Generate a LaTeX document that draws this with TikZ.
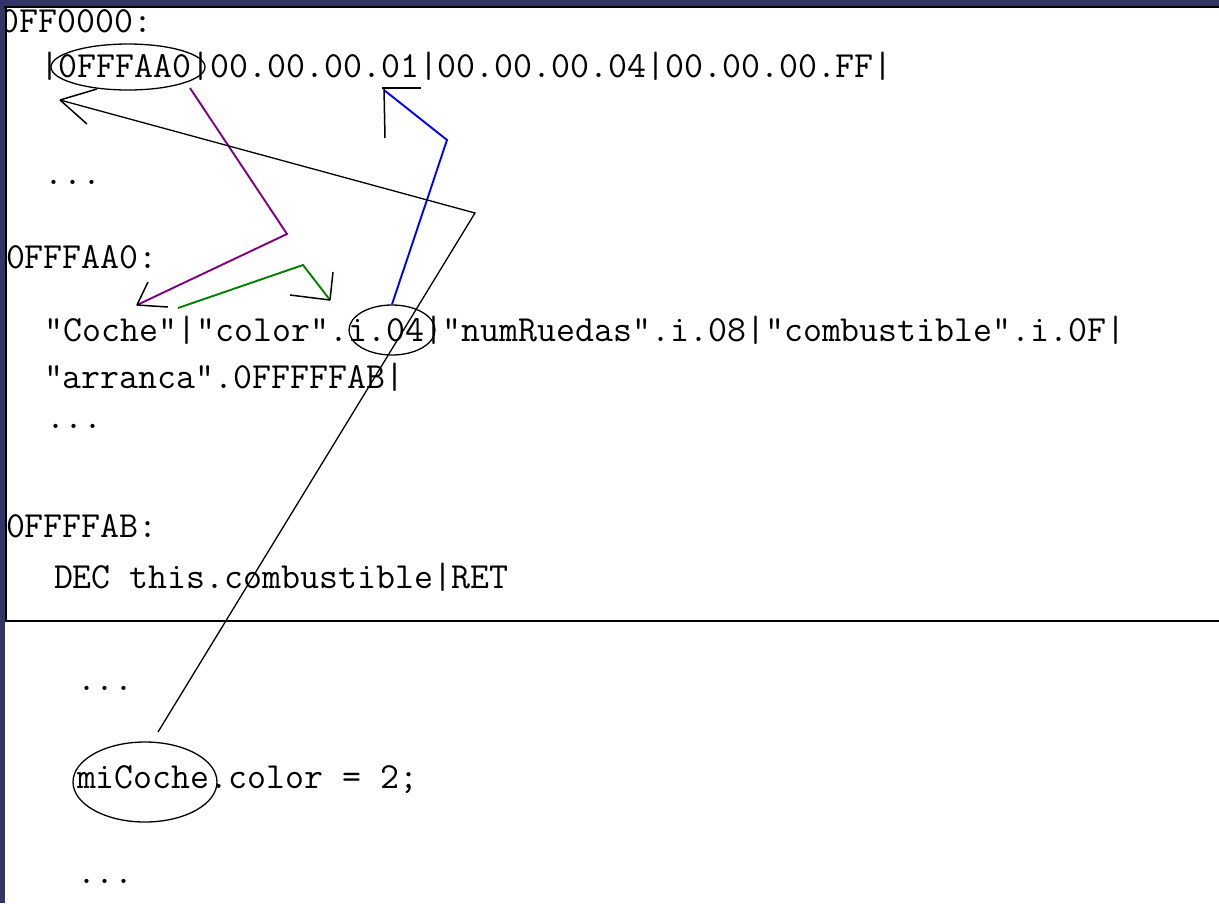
\documentclass[tikz,border=0pt]{standalone}
\usepackage{fontspec}
\usetikzlibrary{shapes.geometric}
\definecolor{navy}{RGB}{51,51,102}
\definecolor{lnpurple}{RGB}{128,0,128}
\definecolor{lngreen}{RGB}{0,128,0}
\definecolor{lnblue}{RGB}{0,0,255}
\newcommand{\codefont}{\fontsize{36.8pt}{40pt}\selectfont\ttfamily}
\tikzset{
  txt/.style={anchor=base west, inner sep=0pt, outer sep=0pt, font=\codefont},
  ring/.style={draw, ellipse, inner sep=0pt, line width=1.3pt},
  link/.style={line width=1.9pt, line join=miter},
  thinlink/.style={line width=1.3pt, black},
  barb/.style={black, line width=1.5pt},
}
\begin{document}
\begin{tikzpicture}[x=1pt,y=-1pt]
\useasboundingbox (0,0) rectangle (1219,903);
\fill[white] (0,0) rectangle (1219,903);

% texts
\node[txt] (l1) at (1,32) {0FF0000:};
\node[txt] (l2) at (40,77) {|0FFFAA0|00.00.00.01|00.00.00.04|00.00.00.FF|};
\node[txt] (l3) at (45,184) {...};
\node[txt] (l4) at (6,268) {0FFFAA0:};
\node[txt] (l5) at (45,341) {"Coche"|"color".i.04|"numRuedas".i.08|"combustible".i.0F|};
\node[txt] (l6) at (44,388) {"arranca".0FFFFFAB|};
\node[txt] (l7) at (46,428) {...};
\node[txt] (l8) at (6,537) {0FFFFAB:};
\node[txt] (l9) at (54,588) {DEC this.combustible|RET};
\node[txt] (l10) at (77,690) {...};
\node[txt] (l11) at (77,788) {miCoche.color = 2;};
\node[txt] (l12) at (77,883) {...};

% ellipses
\node[ring, minimum width=154pt, minimum height=46pt] (e1) at (128,67) {};
\node[ring, minimum width=86pt, minimum height=50pt] (e2) at (392,330) {};
\node[ring, minimum width=144pt, minimum height=80pt] (e3) at (145,782) {};

% waypoints
\coordinate (pS) at (190,88);
\coordinate (pM) at (287,234);
\coordinate (pT) at (137,305);
\coordinate (gS) at (178,308);
\coordinate (gM) at (303,265);
\coordinate (gT) at (330,300);
\coordinate (bM) at (447,140);
\coordinate (bT) at (384,90);
\coordinate (kS) at (158,732);
\coordinate (kM) at (475,213);
\coordinate (kT) at (60,100);

% purple connector
\draw[link, lnpurple] (pS) -- (pM) -- (pT);
\draw[barb] (pT) -- ++(11,-23);
\draw[barb] (pT) -- ++(31,2);
% green connector
\draw[link, lngreen] (gS) -- (gM) -- (gT);
\draw[barb] (gT) -- ++(3,-28);
\draw[barb] (gT) -- ++(-40,-5);
% blue connector
\draw[link, lnblue] (e2.north) -- (bM) -- (bT);
\draw[barb] (382,88) -- (421,88);
\draw[barb] (384,88) -- (385,138);
% black connector
\draw[thinlink] (kS) -- (kM) -- (kT);
\draw[barb] (kT) -- (97,89);
\draw[barb] (kT) -- (87,124);

% frame
\fill[navy] (0,0) rectangle (1219,6);
\fill[navy] (0,0) rectangle (4.5,903);
\draw[line width=2pt] (4,7) -- (1219,7);
\draw[line width=2pt] (5.5,7) -- (5.5,621);
\draw[line width=2.5pt] (5,621) -- (1219,621);
\end{tikzpicture}
\end{document}
